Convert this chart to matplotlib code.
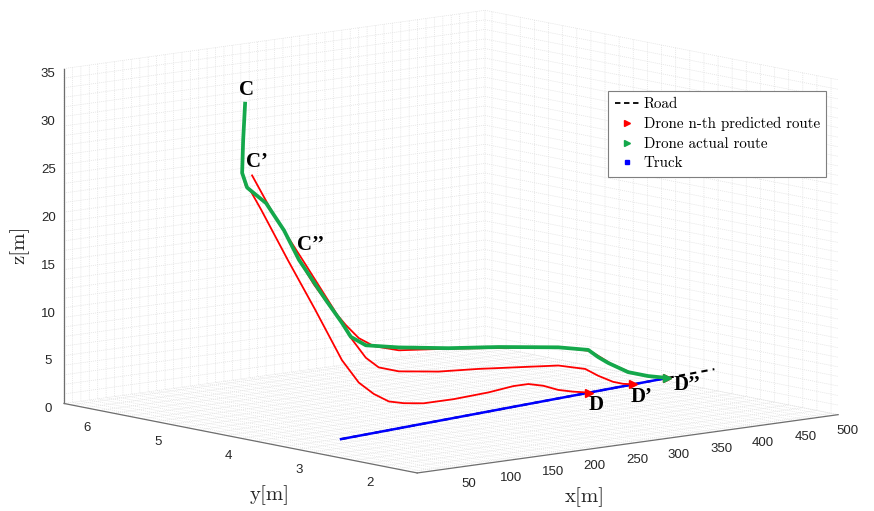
import matplotlib
matplotlib.use('Agg')
import matplotlib.pyplot as plt
import numpy as np
from matplotlib.lines import Line2D
from matplotlib.ticker import FixedLocator, FuncFormatter
from mpl_toolkits.mplot3d import proj3d

# drone actual route (green)
green_x = [5.3, 3.0, 1.8, 7.7, 30.2, 51.5, 69.3, 101.3, 120.3, 130.9, 148.7, 187.8,
           247.0, 306.3, 377.4, 412.9, 424.8, 436.6, 460.3, 484.0, 511.0]
green_y = [4.0, 4.0, 4.0, 4.0, 4.0, 4.0, 4.0, 4.0, 4.0, 4.0, 4.0, 4.0,
           4.0, 4.0, 4.0, 4.0, 4.0, 4.0, 4.0, 4.0, 4.05]
green_z = [34.9, 31.1, 27.7, 26.1, 24.2, 21.1, 17.8, 13.2, 10.6, 9.0, 7.9, 7.2,
           6.4, 5.8, 4.9, 4.2, 3.3, 2.55, 1.3, 0.6, 0.0]

# predicted routes (red), from C, C' and C''
pred1_x = [5.3, 3.0, 1.8, 6.0, 12.4, 24.3, 56.3, 88.3, 120.3, 140.4, 158.2, 176.0,
           193.7, 217.4, 253.0, 294.4, 324.0, 341.8, 359.6, 377.4, 395.1, 404.8]
pred1_y = [4.0, 4.0, 4.0, 4.0, 4.0, 4.0, 4.0, 4.0, 4.0, 4.0, 4.0, 4.0,
           4.0, 4.0, 4.0, 4.0, 4.0, 4.0, 4.0, 4.0, 4.0, 3.89]
pred1_z = [34.9, 31.1, 27.7, 26.3, 25.6, 23.6, 17.9, 12.4, 6.7, 4.1, 2.7, 1.7,
           1.3, 1.0, 1.0, 1.2, 1.5, 1.5, 1.1, 0.45, 0.05, 0.0]

pred2_x = [13.6, 39.7, 75.2, 110.8, 130.9, 148.7, 164.1, 187.8, 235.2, 282.6, 330.0,
           377.4, 409.4, 424.8, 442.5, 454.3, 465.0]
pred2_y = [4.0, 4.0, 4.0, 4.0, 4.0, 4.0, 4.0, 4.0, 4.0, 4.0, 4.0,
           4.0, 4.0, 4.0, 4.0, 4.0, 3.98]
pred2_z = [27.3, 22.8, 17.5, 12.1, 8.9, 6.6, 5.4, 4.7, 4.1, 3.8, 3.4,
           3.0, 2.25, 1.35, 0.5, 0.15, 0.0]

pred3_x = [68.1, 87.1, 106.0, 125.0, 140.4, 158.2, 187.8, 247.0, 306.3, 377.4, 415.3,
           428.3, 440.2, 462.7, 485.2, 511.0]
pred3_y = [4.0, 4.0, 4.0, 4.0, 4.0, 4.0, 4.0, 4.0, 4.0, 4.0, 4.0,
           4.0, 4.0, 4.0, 4.0, 4.05]
pred3_z = [18.0, 15.0, 12.5, 10.3, 8.75, 7.7, 6.9, 6.35, 5.7, 4.95, 4.05,
           3.2, 2.4, 1.25, 0.55, 0.0]

# truck and road on the ground
truck_x = [66.8, 511.6]
truck_y = [3.375, 4.05]
road_x = [66.8, 511.6, 575.0]
road_y = [3.375, 4.05, 4.146]

# point labels
names = ['C', 'C\u2019', 'C\u2019\u2019', 'D', 'D\u2019', 'D\u2019\u2019']
name_x = [6.5, 19.5, 83.5, 422.4, 475.7, 530.0]
name_y = [4.0, 4.0, 4.0, 4.0, 4.0, 4.0]
name_z = [36.3, 28.6, 19.2, -1.67, -1.48, -0.9]

RED = '#ff0000'
GREEN = '#14a84b'
BLUE = '#0000ff'

fig = plt.figure(figsize=(8.74, 5.11), dpi=100)
ax = fig.add_axes([0.059, 0.065, 0.9, 0.9], projection='3d', proj_type='ortho')
ax.computed_zorder = False
ax.view_init(elev=9.5, azim=-130)
ax.set_box_aspect((1, 1, 0.618), zoom=1.79)

ax.set_xlim(0, 500)
ax.set_ylim(1.5, 6.5)
ax.set_zlim(0, 35)

# dense grid, labels only on the major steps
def fmt(step, skip_zero):
    def f(v, pos):
        r = round(v / step)
        if abs(v - r * step) > 1e-6 or (skip_zero and r == 0):
            return ''
        return '%g' % (r * step)
    return FuncFormatter(f)

ax.xaxis.set_major_locator(FixedLocator(np.arange(0, 501, 10)))
ax.xaxis.set_major_formatter(fmt(50, True))
ax.yaxis.set_major_locator(FixedLocator(np.arange(1.6, 6.5, 0.2)))
ax.yaxis.set_major_formatter(fmt(1, False))
ax.zaxis.set_major_locator(FixedLocator(np.arange(0, 36, 1)))
ax.zaxis.set_major_formatter(fmt(5, False))

for axis in (ax.xaxis, ax.yaxis, ax.zaxis):
    axis.set_pane_color((1, 1, 1, 1))
    axis.pane.set_edgecolor((1, 1, 1, 0))
    axis._axinfo['grid'].update(color='#e0e0e0', linewidth=0.5,
                                linestyle=(0, (1.5, 1.5)))
    axis._axinfo['tick'].update(inward_factor=0.0, outward_factor=0.0)
    axis.line.set_color('#6e6e6e')
    axis.line.set_linewidth(0.9)
ax.tick_params(labelsize=9.5, labelcolor='#262626')
ax.xaxis.set_tick_params(pad=-3.5)
ax.yaxis.set_tick_params(pad=-3.0)
ax.zaxis.set_tick_params(pad=-4.5)
for lbl in ax.get_xticklabels() + ax.get_yticklabels() + ax.get_zticklabels():
    lbl.set_fontfamily('Liberation Sans')

# axis names
fig.text(585 / 874, 1 - 497 / 511, 'x[m]', family='cmr10', fontsize=15,
         ha='center', va='center', color='#262626')
fig.text(270 / 874, 1 - 495 / 511, 'y[m]', family='cmr10', fontsize=15,
         ha='center', va='center', color='#262626')
fig.text(20 / 874, 1 - 245 / 511, 'z[m]', family='cmr10', fontsize=15,
         ha='center', va='center', rotation=90, color='#262626')

# road, with the truck drawn over it; the road runs past the x limit
ax.plot(road_x, road_y, [0, 0, 0], color='black', lw=1.5, ls=(0, (3, 2.5)),
        zorder=3, clip_on=False)
ax.plot(truck_x, truck_y, [0, 0], color=BLUE, lw=1.8, zorder=3.1, clip_on=False)

# predicted routes, then the flown one on top
for px, py, pz in [(pred1_x, pred1_y, pred1_z), (pred2_x, pred2_y, pred2_z),
                   (pred3_x, pred3_y, pred3_z)]:
    ax.plot(px, py, pz, color=RED, lw=1.3, zorder=4)
    ax.plot(px[-1:], py[-1:], pz[-1:], ls='none', marker='>', ms=6, color=RED, zorder=5)
ax.plot(green_x, green_y, green_z, color=GREEN, lw=2.7, zorder=6)
ax.plot(green_x[-1:], green_y[-1:], green_z[-1:], ls='none', marker='>', ms=6,
        color=GREEN, zorder=7)

# point names, projected onto the 2-d axes plane
M = ax.get_proj()
for s, tx, ty, tz in zip(names, name_x, name_y, name_z):
    px, py, _ = proj3d.proj_transform(tx, ty, tz, M)
    ax.text2D(px, py, s, transform=ax.transData, fontfamily='Liberation Serif',
              fontweight='bold', fontsize=15, ha='center', va='center', zorder=8)

handles = [
    Line2D([], [], color='black', ls=(0, (3, 2)), lw=1.3),
    Line2D([], [], color=RED, ls='none', marker='>', ms=4),
    Line2D([], [], color=GREEN, ls='none', marker='>', ms=4),
    Line2D([], [], color=BLUE, ls='none', marker='s', ms=2.5),
]
labels = ['Road', 'Drone n-th predicted route', 'Drone actual route', 'Truck']
leg = fig.legend(handles, labels, loc='upper left', bbox_to_anchor=(0.696, 0.822),
                 borderaxespad=0, prop={'family': 'cmr10', 'size': 10.8},
                 fancybox=False, edgecolor='#7f7f7f', framealpha=1,
                 handlelength=1.6, handletextpad=0.3, borderpad=0.45,
                 labelspacing=0.38)
leg.get_frame().set_linewidth(0.8)

fig.savefig('out.png', dpi=100)
